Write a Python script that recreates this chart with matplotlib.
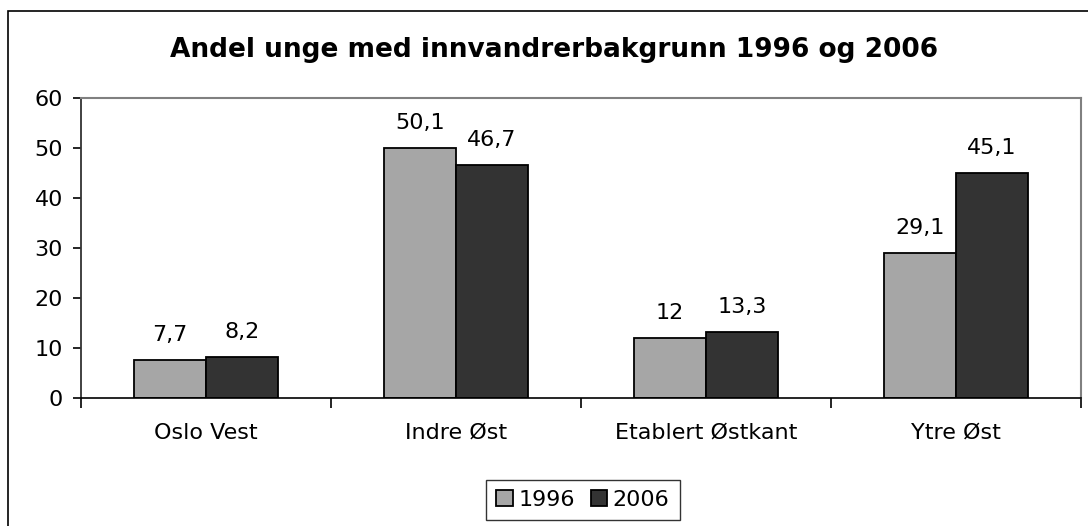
import numpy as np
import matplotlib.pyplot as plt
from matplotlib.patches import Rectangle

plt.rcParams['font.family'] = ['DejaVu Sans']

# data
omraader = ["Oslo Vest", "Indre Øst", "Etablert Østkant", "Ytre Øst"]
aar = ["1996", "2006"]
andel_1996 = [7.7, 50.1, 12, 29.1]
andel_2006 = [8.2, 46.7, 13.3, 45.1]
farger = ["#A6A6A6", "#333333"]

fig = plt.figure(figsize=(10.88, 5.26), dpi=100)
# outer chart frame (Excel style), runs off the right and bottom edge
fig.patches.append(Rectangle((8 / 1088, -0.1), 1.2, 1 - 11 / 526 + 0.1,
                             transform=fig.transFigure, fill=False,
                             edgecolor="black", linewidth=1.2))

ax = fig.add_axes([81 / 1088, 1 - 398 / 526, 1000 / 1088, 300 / 526])

x = np.arange(len(omraader))
w = 0.288
b1 = ax.bar(x - w / 2, andel_1996, w, color=farger[0], edgecolor="black",
            linewidth=1.3, label=aar[0])
b2 = ax.bar(x + w / 2, andel_2006, w, color=farger[1], edgecolor="black",
            linewidth=1.3, label=aar[1])

for bars, vals in ((b1, andel_1996), (b2, andel_2006)):
    for r, v in zip(bars, vals):
        txt = ("%g" % v).replace(".", ",")
        ax.annotate(txt, (r.get_x() + r.get_width() / 2, v), xytext=(0, 13.5),
                    textcoords="offset points", ha="center", va="baseline",
                    fontsize=16)

ax.set_xlim(-0.5, len(omraader) - 0.5)
ax.set_ylim(0, 60)
ax.set_yticks(range(0, 61, 10))
ax.set_xticks(x)
ax.set_xticklabels(omraader, fontsize=16)
ax.set_xticks(np.arange(-0.5, len(omraader)), minor=True)
ax.tick_params(axis="x", which="major", length=0, pad=18)
ax.tick_params(axis="x", which="minor", length=7, width=1.2, direction="out")
ax.tick_params(axis="y", labelsize=16, length=6, width=1.2, pad=7)

ax.spines["top"].set_color("#808080")
ax.spines["right"].set_color("#808080")
ax.spines["top"].set_linewidth(1.5)
ax.spines["right"].set_linewidth(1.5)
ax.spines["left"].set_color("#333333")
ax.spines["left"].set_linewidth(1.3)
ax.spines["bottom"].set_linewidth(1.2)

fig.text(554 / 1088, 1 - 50 / 526,
         "Andel unge med innvandrerbakgrunn 1996 og 2006",
         ha="center", va="center", fontsize=19, fontweight="bold")

leg = fig.legend(loc="center", bbox_to_anchor=(583 / 1088, 1 - 500 / 526),
                 ncol=2, fontsize=16, frameon=True, fancybox=False,
                 handlelength=0.75, handleheight=0.75, handletextpad=0.25,
                 columnspacing=0.7, borderpad=0.45, borderaxespad=0)
leg.get_frame().set_edgecolor("black")
leg.get_frame().set_linewidth(1.0)

fig.savefig("out.png", dpi=100)
